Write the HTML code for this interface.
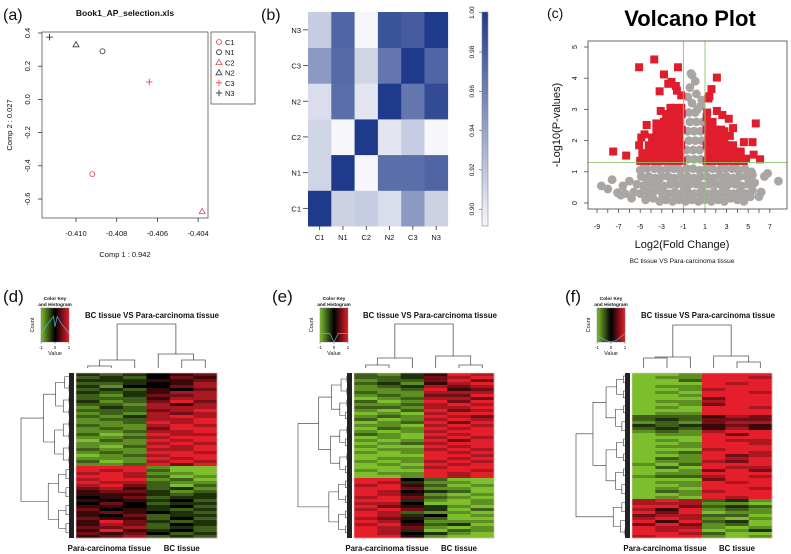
<!DOCTYPE html>
<html><head><meta charset="utf-8"><style>
html,body{margin:0;padding:0;background:#fff;}
svg{display:block;font-family:"Liberation Sans",sans-serif;}
</style></head><body>
<svg id="fig" width="791" height="554" viewBox="0 0 791 554" xmlns="http://www.w3.org/2000/svg">
<g id="ga"></g>
<g id="gb"></g>
<g id="gc"></g>
<g id="gd"></g>
<g id="ge"></g>
<g id="gf"></g>
</svg>
<script>
// ---------- data ----------
const pcaNames = ["C1","N1","C2","N2","C3","N3"];
const pcaX = [-0.4092,-0.4087,-0.4038,-0.4100,-0.4064,-0.4113];
const pcaY = [-0.45,0.29,-0.675,0.33,0.105,0.375];
const pcaShape = ["o","o","t","t","p","p"];
const pcaColor = ["#e8454f","#333","#e8454f","#333","#e8454f","#333"];
const pcaXTicks = [-0.410,-0.408,-0.406,-0.404];
const pcaYTicks = [0.4,0.2,0.0,-0.2,-0.4,-0.6];

const corrLabels = ["C1","N1","C2","N2","C3","N3"];
const corrRows = [ // rows bottom (C1) to top (N3)
 [1.0,0.912,0.915,0.905,0.945,0.912],
 [0.91,1.0,0.89,0.97,0.97,0.975],
 [0.91,0.89,1.0,0.9,0.915,0.89],
 [0.905,0.97,0.9,1.0,0.965,0.99],
 [0.945,0.972,0.91,0.965,1.0,0.975],
 [0.915,0.975,0.89,0.985,0.98,1.0]];
const corrTicks = [1.00,0.98,0.96,0.94,0.92,0.90];

const volXTicks = [-9,-7,-5,-3,-1,1,3,5,7];
const volYTicks = [0,1,2,3,4,5];
const grayPts = "-4.5:0.1 -3.8:0.15 -3.2:0.05 -2.6:0.1 -2:0.05 -1.4:0.1 -0.8:0.05 -0.2:0.1 0.4:0.05 1:0.1 1.6:0.05 2.2:0.1 2.8:0.05 3.4:0.15 4:0.1 4.6:0.05 5.2:0.2 -5.6:0.35 -5:0.3 -4.3:0.35 -3.6:0.4 -3:0.35 -2.4:0.3 -1.8:0.35 -1.2:0.3 -0.6:0.35 0:0.3 0.6:0.35 1.2:0.3 1.8:0.35 2.4:0.3 3:0.35 3.6:0.3 4.2:0.35 4.8:0.3 5.4:0.4 -5.3:0.6 -4.7:0.55 -4:0.6 -3.4:0.6 -2.8:0.55 -2.2:0.6 -1.6:0.6 -1:0.55 -0.4:0.6 0.2:0.6 0.8:0.55 1.4:0.6 2:0.6 2.6:0.55 3.2:0.6 3.8:0.6 4.4:0.55 5:0.6 5.6:0.65 -4.9:0.85 -4.2:0.85 -3.6:0.8 -3:0.85 -2.4:0.85 -1.8:0.8 -1.2:0.85 -0.6:0.85 0:0.8 0.6:0.85 1.2:0.85 1.8:0.8 2.4:0.85 3:0.85 3.6:0.8 4.2:0.85 4.8:0.85 5.4:0.9 -5:1.05 -4.4:1.1 -3.7:1.1 -3.1:1.05 -2.5:1.1 -1.9:1.1 -1.3:1.05 -0.7:1.1 -0.1:1.1 0.5:1.05 1.1:1.1 1.7:1.1 2.3:1.05 2.9:1.1 3.5:1.1 4.1:1.05 4.7:1.1 5.3:1.0 -4.1:0.2 -2.9:0.2 -1.7:0.2 -0.5:0.2 0.7:0.2 1.9:0.2 3.1:0.2 4.3:0.2 -4.4:0.75 -3.3:0.72 -2.1:0.72 -0.9:0.72 0.3:0.72 1.5:0.72 2.7:0.72 3.9:0.72 5:0.8 -4.6:1.2 -3.4:1.22 -2.2:1.2 -1.6:1.22 1.4:1.2 2.6:1.22 3.8:1.2 -8.6:0.55 -8:0.45 -7.6:0.75 -7.1:0.33 -6.6:0.55 -6.4:0.3 -6:0.7 -5.8:0.15 -6.8:0.25 6:0.2 6.2:0.35 6.5:0.85 6.8:0.95 7.8:0.7 -0.6:1.4 0:1.4 0.6:1.4 -0.7:1.7 -0.1:1.7 0.5:1.7 -0.5:2 0.1:2 0.7:2 -0.6:2.3 0:2.3 0.6:2.3 -0.4:2.6 0.2:2.6 0.8:2.6 -0.5:2.9 0.1:2.9 0.3:3.0 0.6:3.1 -0.2:3.2 0.7:3.3 -0.6:3.4 0.2:3.5 -0.4:3.7 0.1:3.9 -0.2:4.1 -0.3:4.15";
const redPts = "-7.5:1.65 -6.3:1.52 -5.1:4.35 -3.7:4.6 -2.8:4.12 -1.5:4.35 -3.2:3.58 -2.4:3.82 -2.1:3.88 -1.7:3.75 -1.6:3.6 -1.2:3.45 -4.4:2.5 -4.9:2.1 -5.1:1.85 -4.6:2.2 -3.5:2.55 -3.1:2.95 2.1:4.02 1.6:3.65 1.4:3.42 1.3:3.35 2.1:2.95 2.6:2.82 3.2:2.7 1.2:2.9 3.6:2.4 5.7:2.55 4.6:1.95 5.4:1.95 3.9:1.6 4.3:1.65 5.5:1.55 6.1:1.4 4.8:1.42 3.3:2.15 2.8:2.3 -5:1.35 -4.5:1.35 -4:1.35 -3.5:1.35 -3:1.35 -2.5:1.35 -2:1.35 -1.5:1.35 -1.15:1.35 -4.8:1.6 -4.3:1.6 -3.8:1.6 -3.3:1.6 -2.8:1.6 -2.3:1.6 -1.8:1.6 -1.3:1.6 -4.2:1.85 -3.7:1.85 -3.2:1.85 -2.7:1.85 -2.2:1.85 -1.7:1.85 -1.2:1.85 -3.9:2.1 -3.4:2.1 -2.9:2.1 -2.4:2.1 -1.9:2.1 -1.4:2.1 -3.5:2.35 -3:2.35 -2.5:2.35 -2:2.35 -1.5:2.35 -1.15:2.35 -2.8:2.6 -2.3:2.6 -1.8:2.6 -1.3:2.6 -2.6:2.85 -2.1:2.85 -1.6:2.85 -1.15:2.85 -2.2:3.05 -1.7:3.05 -1.2:3.05 1.15:1.35 1.6:1.35 2.1:1.35 2.6:1.35 3.1:1.35 3.6:1.35 4.1:1.35 4.6:1.35 1.3:1.6 1.8:1.6 2.3:1.6 2.8:1.6 3.3:1.6 3.8:1.6 4.3:1.6 1.15:1.85 1.6:1.85 2.1:1.85 2.6:1.85 3.1:1.85 3.6:1.85 1.3:2.1 1.8:2.1 2.3:2.1 2.8:2.1 1.15:2.35 1.6:2.35 2.1:2.35 2.5:2.35 1.3:2.6 1.7:2.6 1.15:2.75";

const hmDTop = ["323456","232465","333556","223457","314467","232546","323577","213667","222577","312686","221757","132777","222678","121767","213787","122778","112878","211787","121688","112778","201877","112788","021878","111787","102878","211778","121887","012788","111878","201787","112868"];
const hmDBot = ["888100","878200","787110","887201","788120","877211","786202","675231","566312","555323","456233","545342","464233","554342","645323","565432","546233","655242","586323","576243","667232","585342","656423","567232"];
const hmETop = ["213587","223678","122686","231578","123767","112856","211777","121668","012776","201868","112787","221778","102867","010788","121876","201787","012868","110787","021878","101788","210878","010787","101868","012788","100878","011787","101878","000887","011878","101787","010878","001788","100887","011878","001878"];
const hmEBot = ["884200","873110","785201","886110","874320","875101","786210","883101","774001","865310","786302","872110","873401","765200","874111","785230","876101","873021","874310","885100"];
const hmFTop = ["001888","011887","002888","000878","011888","001788","010887","001888","000688","011788","001688","010887","000888","011888","222576","232666","121677","323565","232575","121788","011868","000888","010877","001887","011888","000788","012887","001867","021878","011768","102888","020877","001686","011888","122787","000688","011878","001888","010887","021788","001888","010878"];
const hmFBot = ["787231","777110","886232","758121","868011","677220","787101","858230","686120","877101","878013","887200","788101"];

// ---------- helpers ----------
const NS="http://www.w3.org/2000/svg";
function mk(parent,tag,attrs,text){const e=document.createElementNS(NS,tag);for(const k in attrs)e.setAttribute(k,attrs[k]);if(text!==undefined)e.textContent=text;parent.appendChild(e);return e;}
function txt(p,x,y,s,size,opts){opts=opts||{};const e=mk(p,"text",{x:x,y:y,"font-size":size,"text-anchor":opts.anchor||"middle",fill:opts.fill||"#111","font-weight":opts.bold?"bold":"normal"},s);if(opts.rot)e.setAttribute("transform","rotate("+opts.rot+" "+x+" "+y+")");return e;}
function line(p,x1,y1,x2,y2,c,w){return mk(p,"line",{x1:x1,y1:y1,x2:x2,y2:y2,stroke:c||"#333","stroke-width":w||0.8});}

// ---------- panel a ----------
(function(){
const g=document.getElementById("ga");
const xs=v=>76+(v+0.410)/0.002*40.7, ys=v=>33+(0.4-v)/0.2*33.2;
let t=txt(g,3,20,"(a)",16,{anchor:"start"});

t=txt(g,125,16,"Book1_AP_selection.xls",8.5,{bold:true});

const box=mk(g,"rect",{x:42,y:32,width:166,height:186,fill:"none",stroke:"#555","stroke-width":0.8});

pcaXTicks.forEach(v=>{const x=xs(v);line(g,x,218,x,222);const l=txt(g,x,236,v.toFixed(3),7.5);
});
pcaYTicks.forEach(v=>{const y=ys(v);line(g,38,y,42,y);const l=txt(g,30,y,v.toFixed(1),7.5,{rot:-90});
});
t=txt(g,125,257,"Comp 1 : 0.942",7.5);
t=txt(g,12,125,"Comp 2 : 0.027",7.5,{rot:-90});
function sym(p,shape,x,y,c){
 if(shape==="o")return mk(p,"circle",{cx:x,cy:y,r:2.5,fill:"none",stroke:c,"stroke-width":0.8});
 if(shape==="t")return mk(p,"polygon",{points:(x)+","+(y-3)+" "+(x-3)+","+(y+2.2)+" "+(x+3)+","+(y+2.2),fill:"none",stroke:c,"stroke-width":0.8});
 const gg=mk(p,"g",{});line(gg,x-3.2,y,x+3.2,y,c,0.9);line(gg,x,y-3.2,x,y+3.2,c,0.9);return gg;}
pcaX.forEach((v,i)=>{const s=sym(g,pcaShape[i],xs(v),ys(pcaY[i]),pcaColor[i]);
});
const lg=mk(g,"g",{});
mk(lg,"rect",{x:211,y:32,width:44,height:72,fill:"#fff",stroke:"#555","stroke-width":0.8});
pcaNames.forEach((n,i)=>{const y=42+i*10.2;sym(lg,pcaShape[i],219,y,pcaColor[i]);
const l=txt(lg,225,y+3,n,7.5,{anchor:"start"});});
})();

// ---------- panel b ----------
(function(){
const g=document.getElementById("gb");
let t=txt(g,261,20,"(b)",16,{anchor:"start"});
const x0=308,cw=23.3,y0=12,rh=35.7,n=6;
function col(v){let f=(v-0.89)/0.11;f=Math.max(0,Math.min(1,f));
 const a=[247,247,251],b=[31,58,138];return "rgb("+a.map((c,i)=>Math.round(c+(b[i]-c)*f)).join(",")+")";}
corrRows.forEach((row,ri)=>{row.forEach((v,ci)=>{
 const r=mk(g,"rect",{x:x0+ci*cw,y:y0+(n-1-ri)*rh,width:cw+0.3,height:rh+0.3,fill:col(v)});
 });});
corrLabels.forEach((l,i)=>{const y=y0+(n-1-i)*rh+rh/2;line(g,303,y,308,y);
 let e=txt(g,301,y+3,l,7.5,{anchor:"end"});
 const x=x0+i*cw+cw/2;line(g,x,226,x,230);
 e=txt(g,x,240,l,7.5);});
const cy=v=>12.7+(1-v)/0.1*196.5;
const defs=mk(g,"defs",{});const lgd=mk(defs,"linearGradient",{id:"cbg",x1:0,y1:1,x2:0,y2:0});
mk(lgd,"stop",{offset:0,"stop-color":col(0.89)});mk(lgd,"stop",{offset:1,"stop-color":col(1.0)});
const cb=mk(g,"rect",{x:482,y:12,width:6,height:214,fill:"url(#cbg)",stroke:"#888","stroke-width":0.6});

corrTicks.forEach(v=>{const y=cy(v);line(g,479,y,482,y,"#555",0.6);
 const e=txt(g,474,y,v.toFixed(2),6.5,{rot:-90});});
})();

// ---------- panel c ----------
(function(){
const g=document.getElementById("gc");
const xs=v=>597+(v+9)*10.8, ys=v=>203-v*31.2;
let t=txt(g,547,18,"(c)",14,{anchor:"start"});
t=txt(g,690,26,"Volcano Plot",22,{bold:true,fill:"#000"});
const clip=mk(mk(g,"defs",{}),"clipPath",{id:"vclip"});mk(clip,"rect",{x:588,y:41,width:199,height:168});
const pg=mk(g,"g",{"clip-path":"url(#vclip)"});
grayPts.split(" ").forEach(s=>{const [a,b]=s.split(":").map(Number);
 const c=mk(pg,"circle",{cx:xs(a),cy:ys(b),r:4.4,fill:"#a8a5a3"});
 });
redPts.split(" ").forEach(s=>{const [a,b]=s.split(":").map(Number);
 const c=mk(pg,"rect",{x:xs(a)-4,y:ys(b)-4,width:8,height:8,fill:"#e01d2d"});
 });
[-1,1].forEach(v=>{const l=line(g,xs(v),41,xs(v),209,"#8cc66a",0.9);});
let hl=line(g,588,ys(1.3),787,ys(1.3),"#8cc66a",0.9);
const box=mk(g,"rect",{x:588,y:41,width:199,height:168,fill:"none",stroke:"#444","stroke-width":0.8});

for(let v=-9;v<=7;v++){line(g,xs(v),209,xs(v),213,"#333",0.7);}
volXTicks.forEach(v=>{const e=txt(g,xs(v),229,String(v),7);});
volYTicks.forEach(v=>{line(g,584,ys(v),588,ys(v),"#333",0.7);const e=txt(g,577,ys(v),String(v),7,{rot:-90});
 });
t=txt(g,682,248,"Log2(Fold Change)",11);
t=txt(g,560,125,"-Log10(P-values)",11,{rot:-90});
t=txt(g,682,263,"BC tissue VS Para-carcinoma tissue",6.5);
})();

// ---------- heatmaps ----------
function hmColor(d){const v=(d-4)/4;if(v<0){const t=-v;return "rgb("+Math.round(124*t)+","+Math.round(190*t)+","+Math.round(46*t)+")";}
 return "rgb("+Math.round(228*v)+","+Math.round(30*v)+","+Math.round(43*v)+")";}
function heatmap(id,cfg,top,bot){
 const g=document.getElementById(id);
 let t=txt(g,cfg.lx,302,cfg.label,17,{anchor:"start"});
 const rows=top.concat(bot),N=rows.length,x0=cfg.x0,x1=cfg.x1,y0=373,y1=538,cw=(x1-x0)/6,rh=(y1-y0)/N;
 rows.forEach((r,ri)=>{r.split("").forEach((d,ci)=>{
  const c=mk(g,"rect",{x:x0+ci*cw,y:y0+ri*rh,width:cw+0.3,height:rh+0.3,fill:hmColor(+d)});
  });});
 mk(g,"rect",{x:x0,y:y0,width:x1-x0,height:y1-y0,fill:"none",stroke:"#e9c9c9","stroke-width":0.6});
 const cx=i=>x0+cw*i+cw/2, lt=y0-3;
 const dg=mk(g,"g",{stroke:"#555","stroke-width":0.8,fill:"none"});
 
 const h=cfg.h;
 function u(xa,ya,xb,yb,yt){mk(dg,"path",{d:"M"+xa+","+ya+"V"+yt+"H"+xb+"V"+yb});}
 u(cx(0),lt-2,cx(1),lt-2,lt-h[0]);u((cx(0)+cx(1))/2,lt-h[0],cx(2),lt-2,lt-h[1]);
 u(cx(4),lt-2,cx(5),lt-2,lt-h[2]);u(cx(3),lt-2,(cx(4)+cx(5))/2,lt-h[2],lt-h[3]);
 u((cx(0)+cx(1)+2*cx(2))/4,lt-h[1],(2*cx(3)+cx(4)+cx(5))/4,lt-h[3],lt-h[4]);
 const rg=mk(g,"g",{stroke:"#333","stroke-width":0.6,fill:"none"});
 
 const W=x0-cfg.dl, split=top.length;
 function node(lo,hi,root){
  if(hi-lo<=1){return {x:x0-2,y:y0+(lo+0.5)*rh};}
  const mid=root?split:Math.floor((lo+hi)/2);
  const a=node(lo,mid,false),b=node(mid,hi,false);
  const n=hi-lo;const x=root?cfg.dl:x0-3-W*0.75*Math.pow(Math.log2(n)/Math.log2(N),2.2);
  mk(rg,"path",{d:"M"+a.x+","+a.y+"H"+x+"V"+b.y+"H"+b.x});
  return {x:x,y:(a.y+b.y)/2};}
 node(0,N,true);
 mk(g,"rect",{x:x0-7,y:y0,width:5,height:y1-y0,fill:"#222"});
 t=txt(g,cfg.tx,318,"BC tissue VS Para-carcinoma tissue",7.8,{bold:true});
 t=txt(g,(x0+x0+3*cw)/2-2,551,"Para-carcinoma tissue",7.8,{bold:true});
 t=txt(g,x0+4.5*cw,551,"BC tissue",7.8,{bold:true});
 const k=mk(g,"g",{});
 const kx=cfg.kx,ky=308,kw=28,kh=34;
 const gid="kg"+id;const lg=mk(mk(k,"defs",{}),"linearGradient",{id:gid,x1:0,y1:0,x2:1,y2:0});
 mk(lg,"stop",{offset:0,"stop-color":hmColor(0)});mk(lg,"stop",{offset:0.5,"stop-color":"#000"});mk(lg,"stop",{offset:1,"stop-color":hmColor(8)});
 mk(k,"rect",{x:kx,y:ky,width:kw,height:kh,fill:"url(#"+gid+")",stroke:"#666","stroke-width":0.4});
 mk(k,"path",{d:cfg.hist(kx,ky,kw,kh),stroke:"#5ab8c8","stroke-width":0.7,fill:"none"});
 txt(k,kx+kw/2,ky-8,"Color Key",4.8,{bold:true});txt(k,kx+kw/2,ky-2,"and Histogram",4.8,{bold:true});
 txt(k,kx-7,ky+kh/2,"Count",5.5,{rot:-90});txt(k,kx+kw/2,ky+kh+13,"Value",5.5);
 [-1,0,1].forEach((v,i)=>{const x=kx+i*kw/2;line(k,x,ky+kh,x,ky+kh+2,"#444",0.4);txt(k,x,ky+kh+7,String(v),4.5);});
}
heatmap("gd",{label:"(d)",lx:3,x0:76,x1:217,dl:21,tx:152,kx:41,h:[4,10,10,16,46],
 hist:(x,y,w,h)=>"M"+x+","+(y+h*0.75)+"L"+(x+w*0.3)+","+(y+h*0.4)+"L"+(x+w*0.45)+","+(y+h*0.25)+"L"+(x+w*0.5)+","+(y+h*0.55)+"L"+(x+w*0.58)+","+(y+h*0.25)+"L"+(x+w*0.72)+","+(y+h*0.45)+"L"+(x+w)+","+(y+h*0.75)},hmDTop,hmDBot);
heatmap("ge",{label:"(e)",lx:272,x0:354,x1:494,dl:298,tx:430,kx:320,h:[5,12,5,14,46],
 hist:(x,y,w,h)=>"M"+x+","+(y+h*0.75)+"L"+(x+w*0.35)+","+(y+h*0.75)+"L"+(x+w*0.5)+","+(y+h)+"L"+(x+w*0.65)+","+(y+h*0.75)+"L"+(x+w)+","+(y+h*0.75)},hmETop,hmEBot);
heatmap("gf",{label:"(f)",lx:565,x0:632,x1:772,dl:576,tx:708,kx:597,h:[12,13,8,14,45],
 hist:(x,y,w,h)=>"M"+x+","+(y+h*0.8)+"L"+(x+w*0.3)+","+(y+h*0.95)+"L"+(x+w*0.5)+","+(y+h)+"L"+(x+w*0.7)+","+(y+h*0.95)+"L"+(x+w)+","+(y+h*0.75)},hmFTop,hmFBot);
</script>
</body></html>
